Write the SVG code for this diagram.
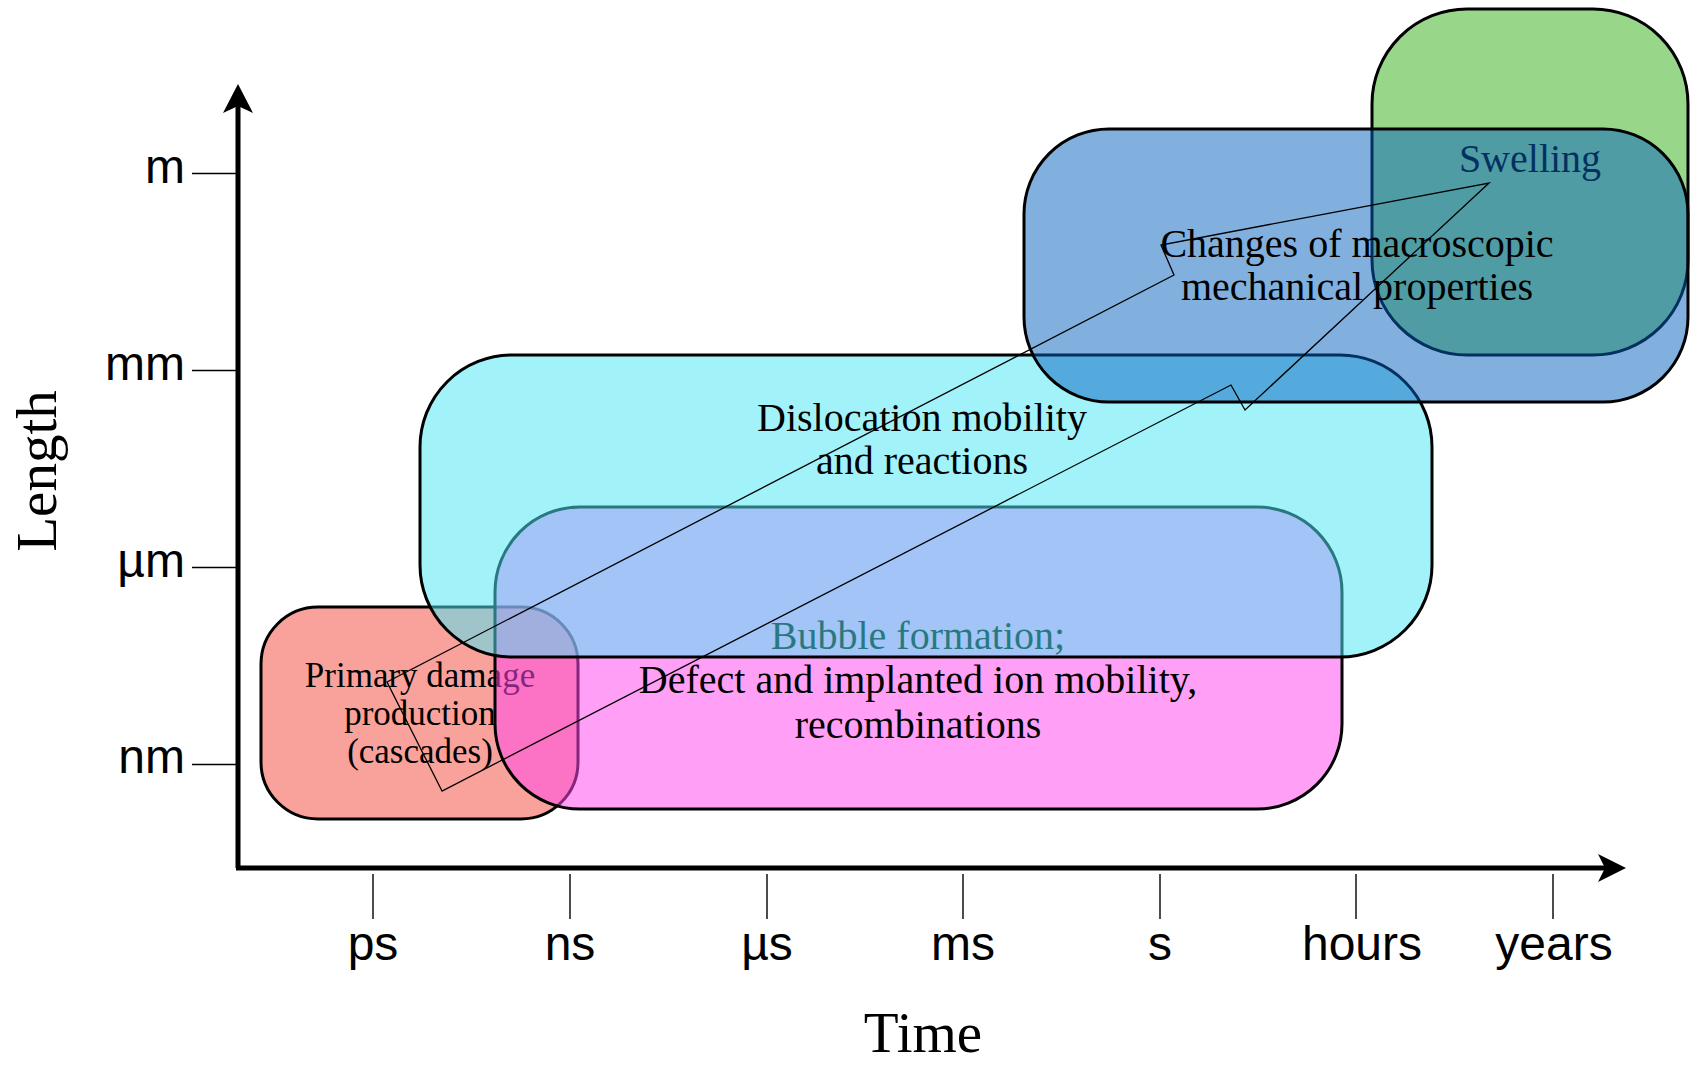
<svg xmlns="http://www.w3.org/2000/svg" width="1691" height="1066" viewBox="0 0 1691 1066">
<style>
.box{stroke:#000;stroke-width:3}
.t{font-family:"Liberation Serif","Times New Roman",serif;font-size:40px;text-anchor:middle;fill:#000}
.ax{font-family:"Liberation Sans",Arial,sans-serif;font-size:48px;fill:#000}
.tick{stroke:#000;stroke-width:1.4}
.axis{stroke:#000;stroke-width:5;fill:none}
.title{font-family:"Liberation Serif","Times New Roman",serif;font-size:57px;text-anchor:middle;fill:#000}
</style>
<rect width="1691" height="1066" fill="#fff"/>
<g id="axes">
  <line class="axis" x1="238" y1="868" x2="238" y2="100"/>
  <line class="axis" x1="236" y1="868" x2="1610" y2="868"/>
  <polygon points="238,84 223,113 238,106 253,113" fill="#000"/>
  <polygon points="1626,868 1598,854 1605,868 1598,882" fill="#000"/>
  <g class="tick">
    <line x1="192" y1="173.5" x2="238" y2="173.5"/>
    <line x1="192" y1="370.5" x2="238" y2="370.5"/>
    <line x1="192" y1="567.5" x2="238" y2="567.5"/>
    <line x1="192" y1="764.5" x2="238" y2="764.5"/>
    <line x1="373" y1="874" x2="373" y2="919"/>
    <line x1="570" y1="874" x2="570" y2="919"/>
    <line x1="767" y1="874" x2="767" y2="919"/>
    <line x1="963" y1="874" x2="963" y2="919"/>
    <line x1="1160" y1="874" x2="1160" y2="919"/>
    <line x1="1356" y1="874" x2="1356" y2="919"/>
    <line x1="1553" y1="874" x2="1553" y2="919"/>
  </g>
  <g class="ax" text-anchor="end">
    <text x="185" y="183">m</text>
    <text x="185" y="380">mm</text>
    <text x="185" y="577">µm</text>
    <text x="185" y="773">nm</text>
  </g>
  <g class="ax" text-anchor="middle">
    <text x="373" y="960">ps</text>
    <text x="570" y="960">ns</text>
    <text x="767" y="960">µs</text>
    <text x="963" y="960">ms</text>
    <text x="1160" y="960">s</text>
    <text x="1362" y="960">hours</text>
    <text x="1554" y="960">years</text>
  </g>
  <text class="title" x="923" y="1052">Time</text>
  <text class="title" transform="translate(56,471) rotate(-90)">Length</text>
</g>
<g id="primary-damage">
  <rect class="box" x="261" y="607" width="317" height="212" rx="57" fill="#f9a29c"/>
  <text class="t" style="font-size:35px" x="420" y="687">Primary damage</text>
  <text class="t" style="font-size:35px" x="420" y="725">production</text>
  <text class="t" style="font-size:35px" x="420" y="763">(cascades)</text>
</g>
<g id="defect-mobility">
  <rect class="box" x="495" y="507" width="847" height="302" rx="85" fill="rgb(255,73,237)" fill-opacity="0.52"/>
  <text class="t" x="918" y="649">Bubble formation;</text>
  <text class="t" x="918" y="693">Defect and implanted ion mobility,</text>
  <text class="t" x="918" y="738">recombinations</text>
</g>
<g id="dislocation">
  <rect class="box" x="420" y="355" width="1012" height="302" rx="92" fill="rgb(77,231,246)" fill-opacity="0.52"/>
  <text class="t" x="922" y="431">Dislocation mobility</text>
  <text class="t" x="922" y="474">and reactions</text>
</g>
<g id="swelling">
  <rect class="box" x="1372" y="9" width="316" height="346" rx="95" fill="#98d68a"/>
  <text class="t" x="1530" y="172">Swelling</text>
</g>
<g id="mechanical">
  <rect class="box" x="1024" y="129" width="664" height="273" rx="85" fill="rgb(5,97,189)" fill-opacity="0.5"/>
  <text class="t" x="1357" y="257">Changes of macroscopic</text>
  <text class="t" x="1357" y="300">mechanical properties</text>
</g>
<g id="connectors">
  <polygon points="442,791 387,682 1174,275 1161,245 1489,183 1245,410 1231,385" fill="none" stroke="#000" stroke-width="1.3" stroke-linejoin="miter"/>
</g>
</svg>
